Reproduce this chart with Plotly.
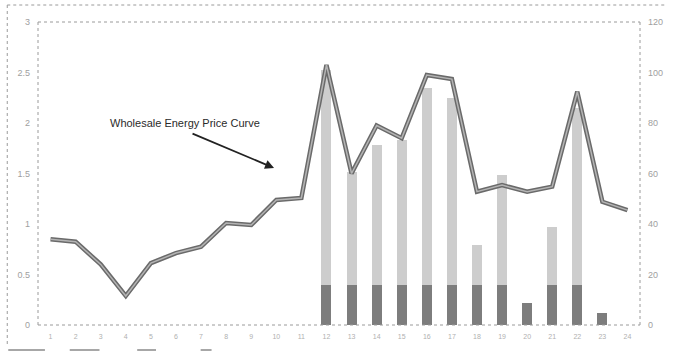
import plotly.graph_objects as go

# Hours of the day
hours = [str(h) for h in range(1, 25)]

# Wholesale energy price curve (right axis)
price = [34, 33, 24, 11.5, 24.5, 28.5, 31, 40.4, 39.6, 49.5, 50.3, 103,
         60, 79, 74, 99, 97.4, 52.8, 55.4, 52.8, 54.8, 92.4, 48.8, 45.5]

# Load bars (left axis): darker base block and lighter upper block
base_load = [0, 0, 0, 0, 0, 0, 0, 0, 0, 0, 0, 0.4,
             0.4, 0.4, 0.4, 0.4, 0.4, 0.4, 0.4, 0.22, 0.4, 0.4, 0.12, 0]
upper_load = [0, 0, 0, 0, 0, 0, 0, 0, 0, 0, 0, 2.12,
              1.11, 1.38, 1.43, 1.95, 1.85, 0.39, 1.09, 0, 0.57, 1.75, 0, 0]

left_ticks = [0, 0.5, 1, 1.5, 2, 2.5, 3]
right_ticks = [0, 20, 40, 60, 80, 100, 120]

X0, X1, Y0, Y1 = 38, 645, 22, 325
W, H = 675, 352


def px(x):
    return (x - X0) / (X1 - X0)


def py(y):
    return (Y1 - y) / (Y1 - Y0)


fig = go.Figure()
fig.add_trace(go.Bar(x=hours, y=base_load, marker=dict(color="#7d7d7d", line=dict(width=0)),
                     width=0.4, yaxis="y"))
fig.add_trace(go.Bar(x=hours, y=upper_load, marker=dict(color="#cdcdcd", line=dict(width=0)),
                     width=0.4, yaxis="y"))
fig.add_trace(go.Scatter(x=hours, y=price, mode="lines", yaxis="y2",
                         line=dict(color="#6a6a6a", width=4.5)))
fig.add_trace(go.Scatter(x=hours, y=price, mode="lines", yaxis="y2",
                         line=dict(color="#b4b4b4", width=1.5)))

tick_font = dict(family="Liberation Sans", size=9, color="#a0a0a0")

shapes = []
dot = dict(color="#9a9a9a", width=1, dash="dot")
# plot area frame
for (xa, ya, xb, yb) in [(X0, Y0, X1, Y0), (X0, Y1, X1, Y1), (X0, Y0, X0, Y1), (X1, Y0, X1, Y1)]:
    shapes.append(dict(type="line", xref="paper", yref="paper",
                       x0=px(xa), y0=py(ya), x1=px(xb), y1=py(yb), line=dot))
# outer chart frame
for (xa, ya, xb, yb) in [(7, 5, 672, 5), (7, 5, 7, 347)]:
    shapes.append(dict(type="line", xref="paper", yref="paper",
                       x0=px(xa), y0=py(ya), x1=px(xb), y1=py(yb), line=dot))
# clipped legend keys along the bottom edge
for (xa, xb) in [(8, 45), (70, 100), (138, 157), (202, 213)]:
    shapes.append(dict(type="line", xref="paper", yref="paper",
                       x0=px(xa), y0=py(350), x1=px(xb), y1=py(350),
                       line=dict(color="#8a8a8a", width=1.5)))

fig.update_layout(
    width=W, height=H,
    margin=dict(l=X0, r=W - X1, t=Y0, b=H - Y1),
    paper_bgcolor="white", plot_bgcolor="white",
    barmode="stack", bargap=0.6,
    showlegend=False,
    xaxis=dict(type="category", range=[-0.5, 23.5], showgrid=False, showline=False,
               ticks="", tickfont=dict(family="Liberation Sans", size=7, color="#b0b0b0"),
               ticklabelstandoff=6, zeroline=False),
    yaxis=dict(range=[0, 3], tickvals=left_ticks, ticktext=[f"{v:g}" for v in left_ticks],
               showgrid=False, zeroline=False, showline=False, tickfont=tick_font, ticks="",
               ticklabelstandoff=7),
    yaxis2=dict(range=[0, 120], tickvals=right_ticks, overlaying="y", side="right",
                showgrid=False, zeroline=False, showline=False, tickfont=tick_font, ticks="",
                ticklabelstandoff=7),
    shapes=shapes,
    annotations=[
        dict(text="Wholesale Energy Price Curve", xref="paper", yref="paper",
             x=px(186), y=py(123), xanchor="center", yanchor="middle", showarrow=False,
             font=dict(family="Liberation Sans", size=11, color="#2a2a2a")),
        dict(text="", xref="paper", yref="paper",
             x=px(276), y=py(168), ax=193 - 276, ay=133 - 168, showarrow=True,
             arrowhead=2, arrowsize=1, arrowwidth=1.8, arrowcolor="#222222"),
    ],
)

fig.write_html("out.html")
